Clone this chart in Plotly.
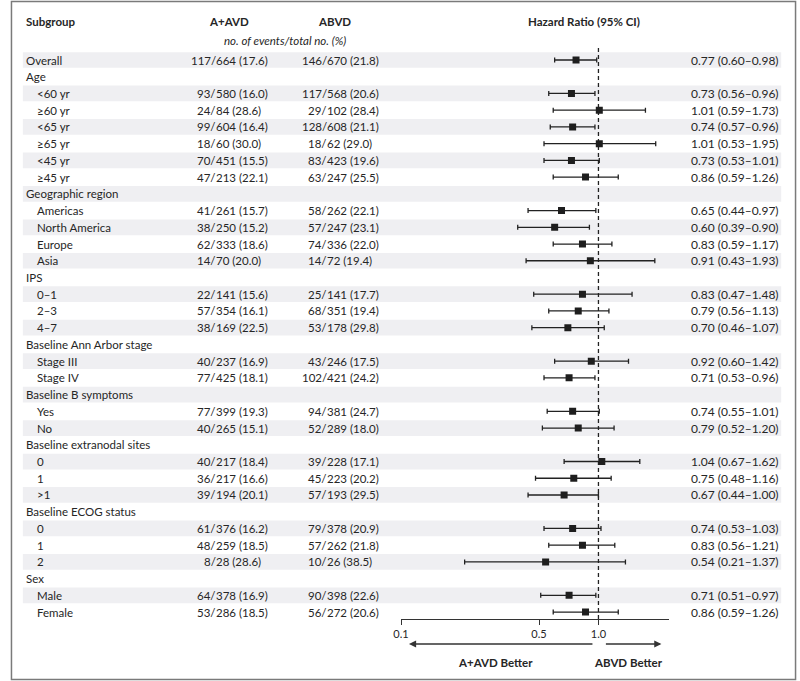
import plotly.graph_objects as go

# ---------------- data ----------------
labels = ["Overall", "Age", "<60 yr", "≥60 yr", "<65 yr", "≥65 yr", "<45 yr", "≥45 yr",
          "Geographic region", "Americas", "North America", "Europe", "Asia",
          "IPS", "0–1", "2–3", "4–7",
          "Baseline Ann Arbor stage", "Stage III", "Stage IV",
          "Baseline B symptoms", "Yes", "No",
          "Baseline extranodal sites", "0", "1", ">1",
          "Baseline ECOG status", "0", "1", "2",
          "Sex", "Male", "Female"]
indent = [0, 0, 1, 1, 1, 1, 1, 1,
          0, 1, 1, 1, 1,
          0, 1, 1, 1,
          0, 1, 1,
          0, 1, 1,
          0, 1, 1, 1,
          0, 1, 1, 1,
          0, 1, 1]
aavd = ["117/664 (17.6)", None, "93/580 (16.0)", "24/84 (28.6)", "99/604 (16.4)", "18/60 (30.0)",
        "70/451 (15.5)", "47/213 (22.1)",
        None, "41/261 (15.7)", "38/250 (15.2)", "62/333 (18.6)", "14/70 (20.0)",
        None, "22/141 (15.6)", "57/354 (16.1)", "38/169 (22.5)",
        None, "40/237 (16.9)", "77/425 (18.1)",
        None, "77/399 (19.3)", "40/265 (15.1)",
        None, "40/217 (18.4)", "36/217 (16.6)", "39/194 (20.1)",
        None, "61/376 (16.2)", "48/259 (18.5)", "8/28 (28.6)",
        None, "64/378 (16.9)", "53/286 (18.5)"]
abvd = ["146/670 (21.8)", None, "117/568 (20.6)", "29/102 (28.4)", "128/608 (21.1)", "18/62 (29.0)",
        "83/423 (19.6)", "63/247 (25.5)",
        None, "58/262 (22.1)", "57/247 (23.1)", "74/336 (22.0)", "14/72 (19.4)",
        None, "25/141 (17.7)", "68/351 (19.4)", "53/178 (29.8)",
        None, "43/246 (17.5)", "102/421 (24.2)",
        None, "94/381 (24.7)", "52/289 (18.0)",
        None, "39/228 (17.1)", "45/223 (20.2)", "57/193 (29.5)",
        None, "79/378 (20.9)", "57/262 (21.8)", "10/26 (38.5)",
        None, "90/398 (22.6)", "56/272 (20.6)"]
hr = [0.77, None, 0.73, 1.01, 0.74, 1.01, 0.73, 0.86,
      None, 0.65, 0.60, 0.83, 0.91,
      None, 0.83, 0.79, 0.70,
      None, 0.92, 0.71,
      None, 0.74, 0.79,
      None, 1.04, 0.75, 0.67,
      None, 0.74, 0.83, 0.54,
      None, 0.71, 0.86]
ci_low = [0.60, None, 0.56, 0.59, 0.57, 0.53, 0.53, 0.59,
          None, 0.44, 0.39, 0.59, 0.43,
          None, 0.47, 0.56, 0.46,
          None, 0.60, 0.53,
          None, 0.55, 0.52,
          None, 0.67, 0.48, 0.44,
          None, 0.53, 0.56, 0.21,
          None, 0.51, 0.59]
ci_high = [0.98, None, 0.96, 1.73, 0.96, 1.95, 1.01, 1.26,
           None, 0.97, 0.90, 1.17, 1.93,
           None, 1.48, 1.13, 1.07,
           None, 1.42, 0.96,
           None, 1.01, 1.20,
           None, 1.62, 1.16, 1.00,
           None, 1.03, 1.21, 1.37,
           None, 0.97, 1.26]
tick_vals = [0.1, 0.5, 1.0]
tick_text = ["0.1", "0.5", "1.0"]

# ---------------- layout helpers ----------------
W, H = 800, 681
Y0, DY = 60.0, 16.73
FONT = "Lato"
TXT = "#262626"


def ry(p):
    return (p - Y0) / DY


def px(x):
    return x / W


rows = list(range(len(labels)))
fig = go.Figure()

# shaded bands
shapes = []
for i in rows:
    if i % 2 == 0:
        shapes.append(dict(type="rect", xref="paper", yref="y", x0=px(15), x1=px(781),
                           y0=i - 0.47, y1=i + 0.47, fillcolor="#efeff2",
                           line=dict(width=0), layer="below"))
# outer border
shapes.append(dict(type="rect", xref="paper", yref="paper", x0=px(3.5), x1=px(795.5),
                   y0=1 - 679.5 / H, y1=1 - 1.5 / H, line=dict(color="#7a7a7a", width=1.5),
                   fillcolor="rgba(0,0,0,0)"))

# reference line at HR = 1
fig.add_trace(go.Scatter(x=[1.0, 1.0], y=[ry(48), ry(619)], mode="lines",
                         line=dict(color="#222", width=1.3, dash="4px,3px"),
                         hoverinfo="skip", showlegend=False))

# estimates with CIs
xs, ys, up, dn = [], [], [], []
for i in rows:
    if hr[i] is not None:
        xs.append(hr[i])
        ys.append(i)
        up.append(ci_high[i] - hr[i])
        dn.append(hr[i] - ci_low[i])
fig.add_trace(go.Scatter(
    x=xs, y=ys, mode="markers",
    marker=dict(symbol="square", size=7, color="#1e1e1e"),
    error_x=dict(type="data", symmetric=False, array=up, arrayminus=dn,
                 color="#222", thickness=1.3, width=2.5),
    showlegend=False))

ann = []


def txt(x, y, text, anchor="left", bold=False, italic=False, size=11.5, yref="y"):
    t = text
    if bold:
        t = "<b>" + t + "</b>"
    if italic:
        t = "<i>" + t + "</i>"
    ann.append(dict(x=px(x), y=y, xref="paper", yref=yref, text=t, showarrow=False,
                    xanchor=anchor, yanchor="middle", borderpad=0, borderwidth=0,
                    font=dict(family=FONT, size=size, color=TXT)))


# headers
txt(18, ry(21), "Subgroup", bold=True)
txt(223, ry(21), "A+AVD", anchor="center", bold=True)
txt(330, ry(21), "ABVD", anchor="center", bold=True)
txt(280, ry(40), "no. of events/total no. (%)", anchor="center", italic=True)
txt(582, ry(21), "Hazard Ratio (95% CI)", anchor="center", bold=True)

# table rows
for i in rows:
    txt(18 + 11 * indent[i], i, labels[i])
    for col, slash_x in ((aavd, 210), (abvd, 322)):
        v = col[i]
        if v is None:
            continue
        num, rest = v.split("/", 1)
        txt(slash_x, i, num + "/", anchor="right")
        txt(slash_x, i, rest, anchor="left")
    if hr[i] is not None:
        txt(690, i, f"{hr[i]:.2f} ({ci_low[i]:.2f}–{ci_high[i]:.2f})", size=12)

# arrows
ann.append(dict(x=px(405), y=ry(644), xref="paper", yref="y", ax=185, ay=0, text="",
                showarrow=True, arrowhead=2, arrowsize=1.1, arrowwidth=1.3,
                arrowcolor="#333", standoff=0))
ann.append(dict(x=px(660), y=ry(644), xref="paper", yref="y", ax=-57, ay=0, text="",
                showarrow=True, arrowhead=2, arrowsize=1.1, arrowwidth=1.3,
                arrowcolor="#333", standoff=0))
txt(492, ry(662), "A+AVD Better", anchor="center", bold=True)
txt(627, ry(662), "ABVD Better", anchor="center", bold=True)

fig.update_layout(
    width=W, height=H, margin=dict(l=0, r=0, t=0, b=0),
    paper_bgcolor="white", plot_bgcolor="white",
    shapes=shapes, annotations=ann, showlegend=False,
    xaxis=dict(type="log", range=[-1, 0.359], domain=[px(397), px(668)],
               anchor="free", position=1 - 619 / H,
               showline=True, linecolor="#333", linewidth=1.2,
               ticks="outside", ticklen=5, tickcolor="#333", tickwidth=1.2,
               tickvals=tick_vals, ticktext=tick_text,
               tickfont=dict(family=FONT, size=11, color=TXT),
               showgrid=False, zeroline=False, fixedrange=True),
    yaxis=dict(range=[ry(H), ry(0)], domain=[0, 1], visible=False,
               showgrid=False, zeroline=False, fixedrange=True),
)

fig.write_html("out.html", config={"displayModeBar": False},
               post_script="document.body.style.margin='0';document.body.style.overflow='hidden';")
